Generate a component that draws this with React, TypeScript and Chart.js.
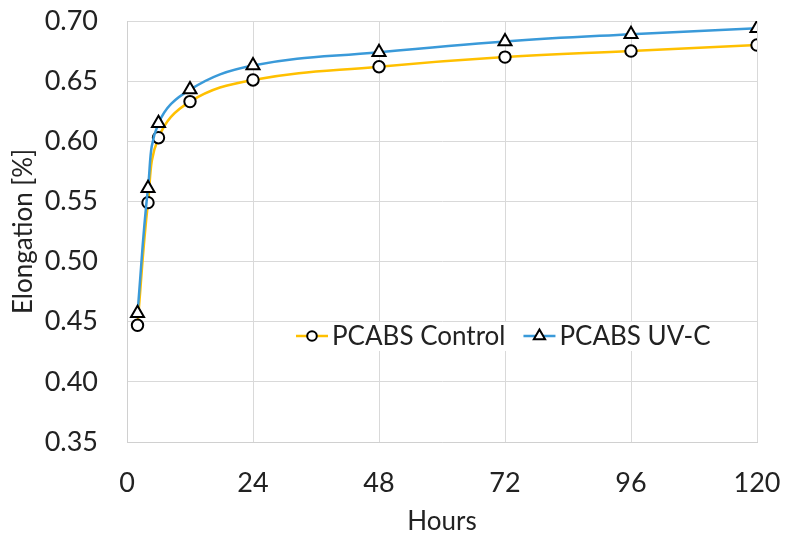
import { useEffect, useRef } from 'react';
import { Chart, registerables } from 'chart.js';
import { drawPoint } from 'chart.js/helpers';

Chart.register(...registerables);

const FONT = 'Lato, "Open Sans", sans-serif';
const TEXT = '#222222';

const hours = [2, 4, 6, 12, 24, 48, 72, 96, 120];
const controlValues = [0.447, 0.549, 0.603, 0.633, 0.651, 0.662, 0.670, 0.675, 0.680];
const uvcValues = [0.457, 0.561, 0.615, 0.643, 0.663, 0.674, 0.683, 0.689, 0.694];
const seriesLabels = ['PCABS Control', 'PCABS UV-C'];
const seriesColors = ['#FFC000', '#3A9AD9'];
const seriesMarkers = ['circle', 'triangle'];
const xRange = [0, 120, 24];
const yRange = [0.35, 0.7, 0.05];

// legend sits inside the plot, Excel style
const insideLegend = {
  id: 'insideLegend',
  afterDraw(chart: any) {
    const { ctx } = chart;
    const x0 = 296;
    const cy = 336;
    const lineLen = 32;
    const gap = 4;
    const itemGap = 18;
    ctx.save();
    ctx.font = `26px ${FONT}`;
    const widths = chart.data.datasets.map((d: any) => ctx.measureText(d.label).width);
    const total = widths.reduce((a: number, w: number) => a + lineLen + gap + w, 0) + itemGap;
    ctx.fillStyle = '#ffffff';
    ctx.fillRect(x0 - 6, cy - 14, total + 12, 29);
    let x = x0;
    chart.data.datasets.forEach((ds: any, i: number) => {
      ctx.strokeStyle = ds.borderColor;
      ctx.lineWidth = 2.5;
      ctx.beginPath();
      ctx.moveTo(x, cy);
      ctx.lineTo(x + lineLen, cy);
      ctx.stroke();
      ctx.fillStyle = '#ffffff';
      ctx.strokeStyle = '#000000';
      ctx.lineWidth = 2;
      drawPoint(ctx, { pointStyle: ds.pointStyle, radius: ds.pointStyle === 'triangle' ? 6.5 : 4.8, borderWidth: 2, rotation: 0 }, x + lineLen / 2, cy);
      ctx.fillStyle = TEXT;
      ctx.textBaseline = 'middle';
      ctx.textAlign = 'left';
      ctx.fillText(ds.label, x + lineLen + gap, cy + 1);
      x += lineLen + gap + widths[i] + itemGap;
    });
    ctx.restore();
  },
};

// drop the label overhang padding so layout.padding decides the plot edges
const noScalePadding = (s: any) => {
  s.paddingTop = 0;
  s.paddingBottom = 0;
  s.paddingLeft = 0;
  s.paddingRight = 0;
};

export default function App() {
  const canvasRef = useRef<HTMLCanvasElement>(null);
  const chartRef = useRef<Chart | null>(null);

  useEffect(() => {
    document.body.style.margin = '0';
    if (!canvasRef.current) return;
    if (chartRef.current) chartRef.current.destroy();

    const series = [controlValues, uvcValues];

    chartRef.current = new Chart(canvasRef.current, {
      type: 'line',
      data: {
        datasets: series.map((values, i) => ({
          label: seriesLabels[i],
          data: hours.map((h, j) => ({ x: h, y: values[j] })),
          borderColor: seriesColors[i],
          borderWidth: 2.5,
          tension: 0.4,
          fill: false,
          pointStyle: seriesMarkers[i],
          pointRadius: seriesMarkers[i] === 'triangle' ? 7.5 : 5.7,
          pointBorderColor: '#000000',
          pointBackgroundColor: '#ffffff',
          pointBorderWidth: 2,
          order: 1 - i,
        })),
      },
      options: {
        animation: false,
        responsive: true,
        maintainAspectRatio: false,
        layout: { padding: { top: 21, right: 29, left: 0, bottom: 0 } },
        plugins: {
          legend: { display: false },
          tooltip: { enabled: false },
        },
        scales: {
          x: {
            type: 'linear',
            min: xRange[0],
            max: xRange[1],
            afterFit: (s: any) => { s.height = 96; noScalePadding(s); },
            ticks: { stepSize: xRange[2], color: TEXT, font: { family: FONT, size: 27 }, padding: 25 },
            grid: { color: '#d9d9d9', drawTicks: false, lineWidth: 1 },
            border: { color: '#d0d0d0' },
            title: { display: true, text: 'Hours', color: TEXT, font: { family: FONT, size: 26 }, padding: { top: 0, bottom: 1 } },
          },
          y: {
            min: yRange[0],
            max: yRange[1],
            afterFit: (s: any) => { s.width = 127; noScalePadding(s); },
            ticks: {
              stepSize: yRange[2],
              color: TEXT,
              font: { family: FONT, size: 27 },
              padding: 29,
              callback: (v: any) => Number(v).toFixed(2),
            },
            grid: { color: '#d9d9d9', drawTicks: false, lineWidth: 1 },
            border: { color: '#d0d0d0' },
            title: { display: true, text: 'Elongation [%]', color: TEXT, font: { family: FONT, size: 26 }, padding: { top: 8, bottom: 0 } },
          },
        },
      },
      plugins: [insideLegend],
    });

    return () => chartRef.current?.destroy();
  }, []);

  return (
    <div style={{ width: 786, height: 538, position: 'relative', background: '#fff' }}>
      <canvas ref={canvasRef} />
    </div>
  );
}
